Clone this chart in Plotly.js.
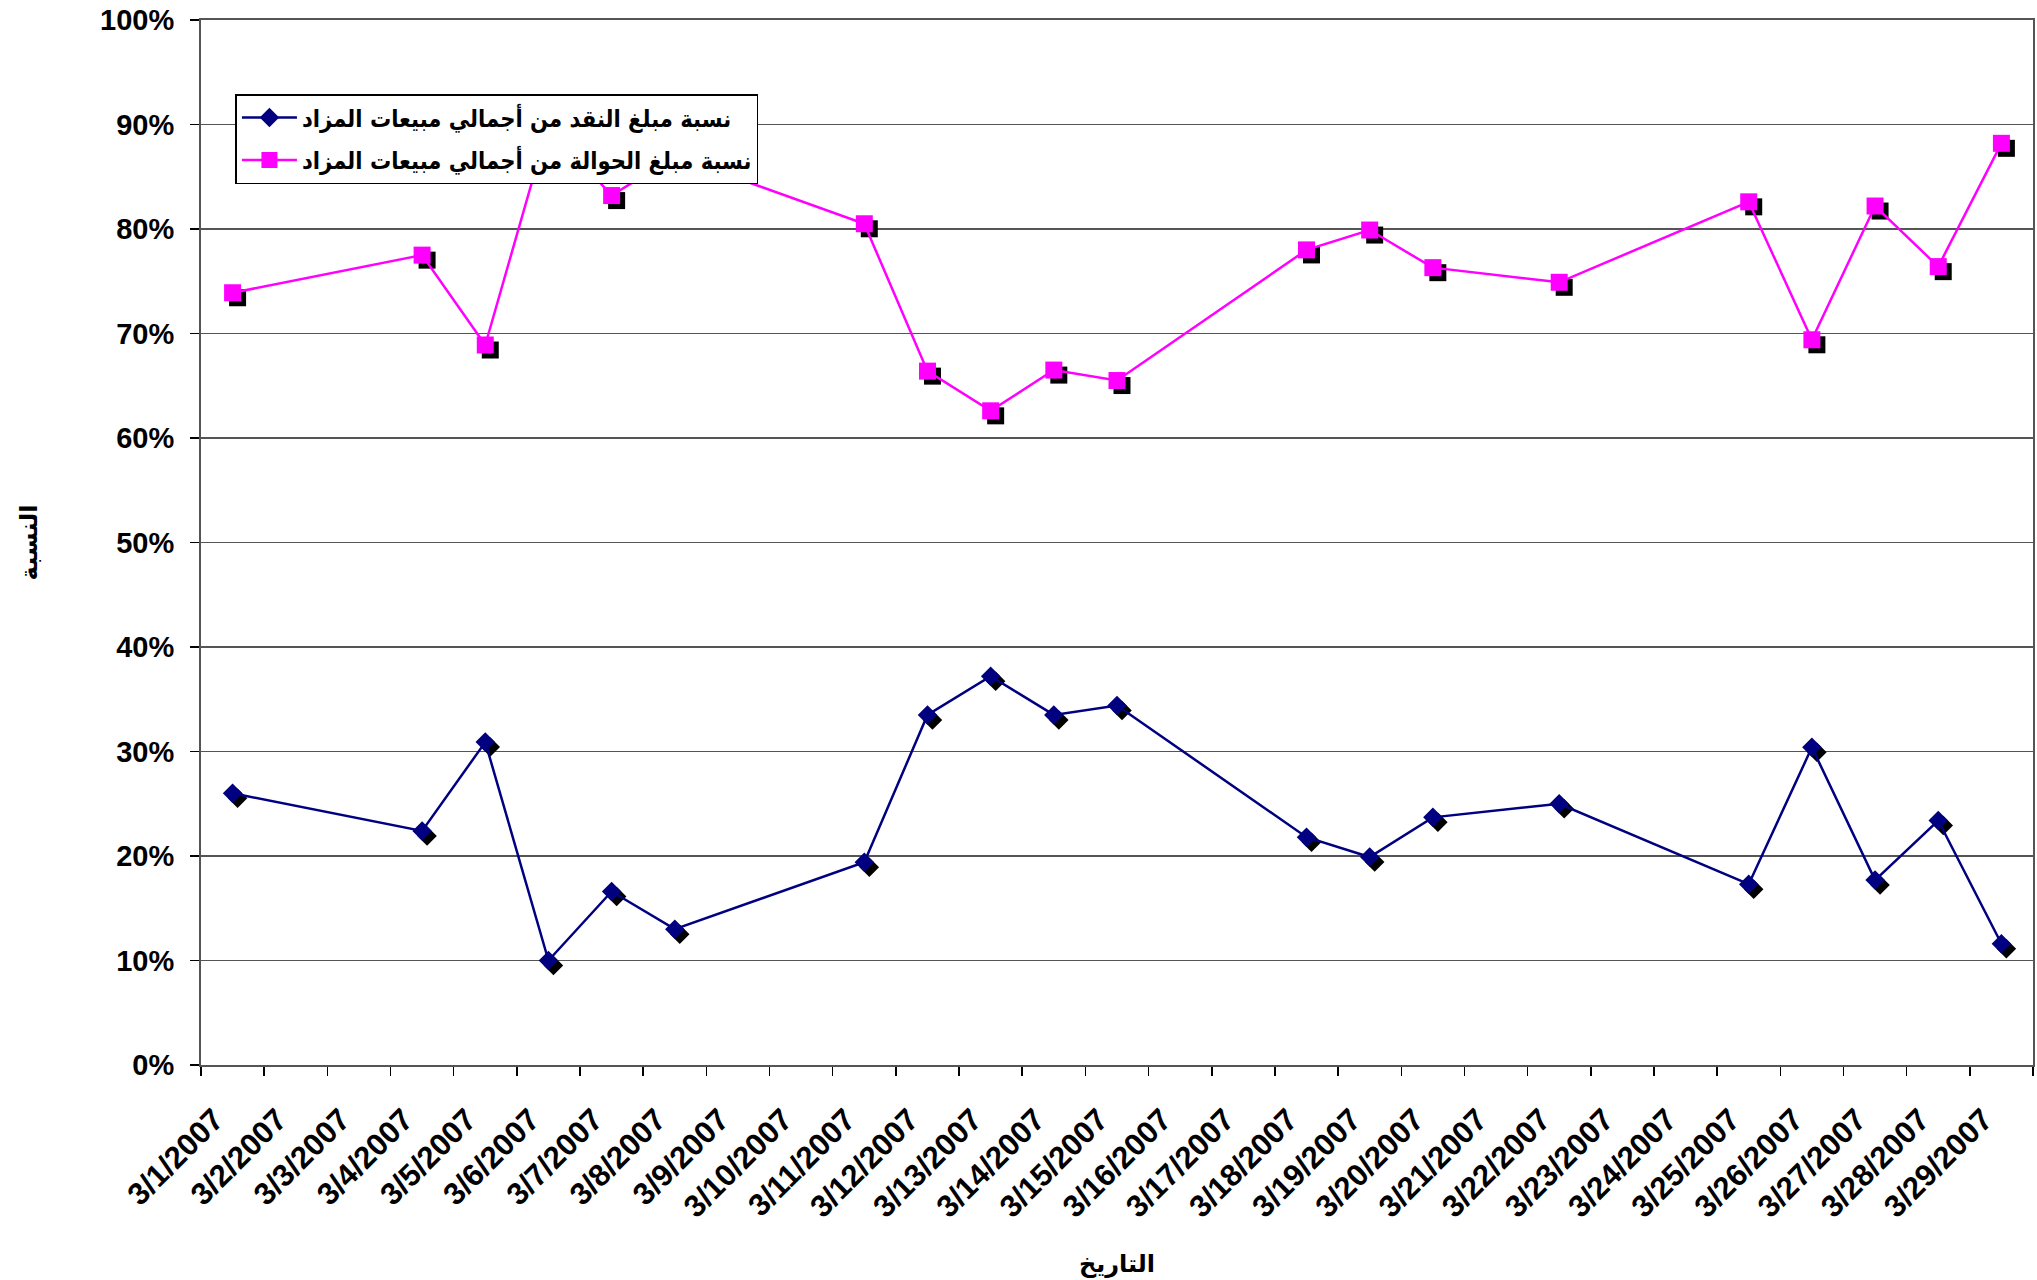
<!DOCTYPE html>
<html>
<head>
<meta charset="utf-8">
<script src="https://cdn.plot.ly/plotly-3.0.1.min.js"></script>
<style>
html,body{margin:0;padding:0;background:#fff;}
#chart{width:2037px;height:1280px;}
</style>
</head>
<body>
<div id="chart"></div>
<script>
// All day categories on the axis
const dayLabels = ['3/1/2007','3/2/2007','3/3/2007','3/4/2007','3/5/2007','3/6/2007','3/7/2007','3/8/2007','3/9/2007','3/10/2007',
  '3/11/2007','3/12/2007','3/13/2007','3/14/2007','3/15/2007','3/16/2007','3/17/2007','3/18/2007','3/19/2007','3/20/2007',
  '3/21/2007','3/22/2007','3/23/2007','3/24/2007','3/25/2007','3/26/2007','3/27/2007','3/28/2007','3/29/2007'];

// Auction days with data
const auctionDays = ['3/1/2007','3/4/2007','3/5/2007','3/6/2007','3/7/2007','3/8/2007','3/11/2007','3/12/2007','3/13/2007','3/14/2007',
  '3/15/2007','3/18/2007','3/19/2007','3/20/2007','3/22/2007','3/25/2007','3/26/2007','3/27/2007','3/28/2007','3/29/2007'];

// Cash share of total auction sales
const cashShare = [0.260,0.224,0.309,0.100,0.166,0.130,0.194,0.335,0.372,0.335,
  0.344,0.218,0.199,0.237,0.250,0.173,0.304,0.177,0.234,0.116];

// Transfer share of total auction sales
const transferShare = [0.739,0.775,0.689,0.900,0.832,0.870,0.805,0.664,0.626,0.665,
  0.655,0.780,0.799,0.763,0.749,0.826,0.694,0.822,0.764,0.882];

const cashName = 'نسبة مبلغ النقد من أجمالي مبيعات المزاد';
const transferName = 'نسبة مبلغ الحوالة من أجمالي مبيعات المزاد';

const FONT = 'Arial, "Liberation Sans", "DejaVu Sans", sans-serif';
const LEGEND_FONT = '"DejaVu Sans Condensed", "DejaVu Sans", sans-serif';
const navy = '#000080';
const magenta = '#FF00FF';

const shadowDx = 0.079;   // ~5px in category units
const shadowDy = 0.0048;  // ~5px in y units

const traces = [
  // shadows (base axes, shifted ranges)
  {x: auctionDays, y: cashShare, xaxis:'x', yaxis:'y', mode:'markers', showlegend:false, hoverinfo:'skip',
   marker:{symbol:'diamond', size:15, color:'#000000'}},
  {x: auctionDays, y: transferShare, xaxis:'x', yaxis:'y', mode:'markers', showlegend:false, hoverinfo:'skip',
   marker:{symbol:'square', size:17, color:'#000000'}},
  // main series
  {x: auctionDays, y: cashShare, xaxis:'x2', yaxis:'y2', mode:'lines+markers', name: cashName, legendgroup:'a',
   line:{color:navy, width:2.5}, marker:{symbol:'diamond', size:15, color:navy}},
  {x: auctionDays, y: transferShare, xaxis:'x2', yaxis:'y2', mode:'lines+markers', name: transferName, legendgroup:'b',
   line:{color:magenta, width:2.5}, marker:{symbol:'square', size:17, color:magenta}}
];

const layout = {
  width:2037, height:1280,
  paper_bgcolor:'#ffffff', plot_bgcolor:'#ffffff',
  margin:{l:201, r:4, t:20, b:215},
  font:{family:FONT, color:'#000', size:24},
  showlegend:true,
  legend:{
    x:0.0188, y:0.929, xanchor:'left', yanchor:'top',
    bgcolor:'#ffffff', bordercolor:'#000000', borderwidth:1.5,
    font:{family:LEGEND_FONT, size:23.5, color:'#000', weight:'bold'},
    itemwidth:55, tracegroupgap:9
  },
  xaxis:{
    type:'category', categoryarray: dayLabels, categoryorder:'array',
    range:[-0.5 - shadowDx, dayLabels.length - 0.5 - shadowDx],
    visible:false, fixedrange:true
  },
  yaxis:{
    range:[0 + shadowDy, 1 + shadowDy], visible:false, fixedrange:true
  },
  xaxis2:{
    type:'category', categoryarray: dayLabels, categoryorder:'array',
    overlaying:'x', anchor:'y2',
    range:[-0.5, dayLabels.length - 0.5],
    tickson:'boundaries', ticks:'outside', ticklen:9, tickcolor:'#000', tickwidth:1.5,
    tickangle:-45, tickfont:{family:FONT, size:31, color:'#000', weight:'bold'},
    ticklabelstandoff:22, ticklabelshift:-18,
    showgrid:false, zeroline:false,
    showline:true, linecolor:'#555', linewidth:2, mirror:true,
    title:{text:'التاريخ', font:{family:FONT, size:24, color:'#000', weight:'bold'}, standoff:32},
    automargin:false
  },
  yaxis2:{
    overlaying:'y', anchor:'x2',
    range:[0,1], dtick:0.1, tick0:0, tickformat:'.0%',
    ticks:'outside', ticklen:9, tickcolor:'#000', tickwidth:1.5,
    tickfont:{family:FONT, size:29, color:'#000', weight:'bold'},
    ticklabelstandoff:10,
    showgrid:true, gridcolor:'#555', gridwidth:1.2,
    zeroline:false,
    showline:true, linecolor:'#555', linewidth:2, mirror:true,
    title:{text:'النسبة', font:{family:FONT, size:24, color:'#000', weight:'bold'}, standoff:56},
    automargin:false
  }
};

Plotly.newPlot('chart', traces, layout, {displayModeBar:false, staticPlot:true});
</script>
</body>
</html>
